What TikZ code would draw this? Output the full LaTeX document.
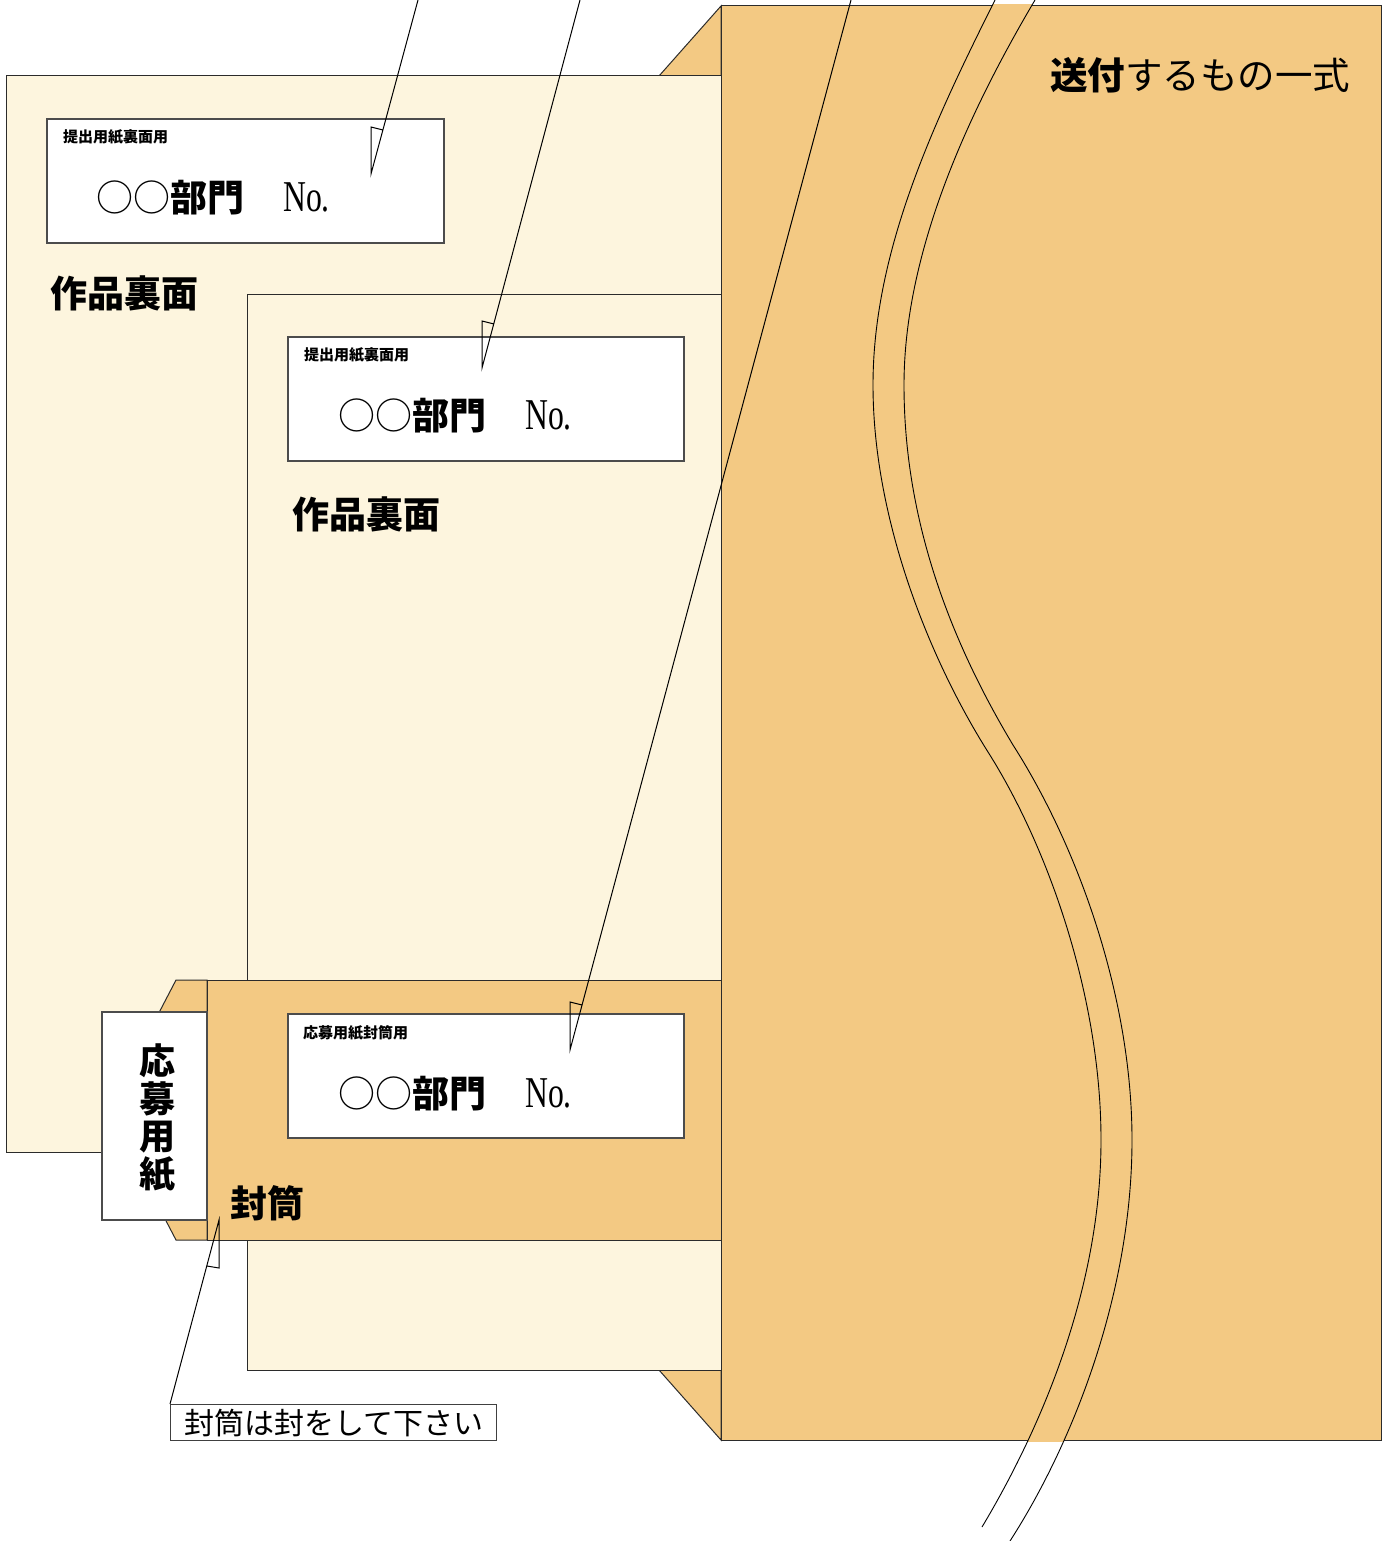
\documentclass[tikz,border=0pt]{standalone}
\usepackage{fontspec}
\usepackage{graphicx}
\newfontfamily\jp{Noto Sans CJK JP}
\newfontfamily\lat{Liberation Serif}
\definecolor{cream}{HTML}{FDF5DE}
\definecolor{env}{HTML}{F3C983}
\definecolor{edge}{HTML}{2B2B2B}
\begin{document}
\begin{tikzpicture}[x=1pt,y=-1pt,
  sheet/.style={fill=cream,draw=edge,line width=1pt},
  envel/.style={fill=env,draw=edge,line width=1pt},
  labelbox/.style={fill=white,draw=black!70,line width=1.2pt},
  lead/.style={draw=black,line width=1pt},
  curv/.style={draw=black,line width=0.9pt},
  txt/.style={inner sep=0pt,anchor=west},
  head/.style={txt,font=\jp\bfseries\fontsize{37}{37}\selectfont},
  small/.style={txt,font=\jp\bfseries\fontsize{15}{15}\selectfont},
  big/.style={txt,font=\jp\fontsize{37}{37}\selectfont}]
\newcommand{\bignum}{○○\textbf{部門}\hspace{39pt}{\lat\fontsize{44}{44}\selectfont\scalebox{0.72}[1]{No.}}}
\useasboundingbox (0,0) rectangle (1391,1541);

% big envelope flap
\path[envel] (659,76) -- (721,6) -- (721,1440) -- (659,1370) -- cycle;
% sheets
\path[sheet] (6,76) rectangle (721,1152);
\path[sheet] (247,294) rectangle (721,1370);
% label boxes
\path[labelbox] (47,119) rectangle (444,243);
\path[labelbox] (288,337) rectangle (684,461);
% small envelope
\path[envel] (176,980) -- (207,980) -- (207,1240) -- (176,1240) -- (150,1190) -- (150,1030) -- cycle;
\path[envel] (207,980) rectangle (721,1240);
\path[labelbox] (102,1012) rectangle (207,1220);
\path[labelbox] (288,1014) rectangle (684,1138);
% big envelope body
\path[envel] (721,6) rectangle (1381,1440);
% break band
\begin{scope}
\clip (720,4.5) rectangle (1383,1441.5);
\fill[env] (995,0) .. controls (935,120) and (873,250) .. (873,385)
  .. controls (873,520) and (930,660) .. (988,752)
  .. controls (1050,850) and (1101,1000) .. (1101,1140)
  .. controls (1101,1290) and (1040,1430) .. (982,1527)
  -- (1010,1541) .. controls (1075,1440) and (1132,1290) .. (1132,1140)
  .. controls (1132,1000) and (1080,850) .. (1013,745)
  .. controls (950,640) and (904,520) .. (904,385)
  .. controls (904,250) and (970,110) .. (1035,0) -- cycle;
\end{scope}
\draw[curv] (995,0) .. controls (935,120) and (873,250) .. (873,385)
  .. controls (873,520) and (930,660) .. (988,752)
  .. controls (1050,850) and (1101,1000) .. (1101,1140)
  .. controls (1101,1290) and (1040,1430) .. (982,1527);
\draw[curv] (1035,0) .. controls (970,110) and (904,250) .. (904,385)
  .. controls (904,520) and (950,640) .. (1013,745)
  .. controls (1080,850) and (1132,1000) .. (1132,1140)
  .. controls (1132,1290) and (1075,1440) .. (1010,1541);

% texts
\node[head] (h1) at (50,293) {作品裏面};
\node[head] (h2) at (292,514) {作品裏面};
\node[head] (h3) at (230,1203) {封筒};
\node[txt,font=\jp\fontsize{37.5}{37.5}\selectfont] (title) at (1050,75) {\textbf{送付}するもの一式};
\node[small] (s1) at (63,137) {提出用紙裏面用};
\node[small] (s2) at (304,355) {提出用紙裏面用};
\node[small] (s3) at (303,1033) {応募用紙封筒用};
\node[big] (b1) at (96,198) {\bignum};
\node[big] (b2) at (338,416) {\bignum};
\node[big] (b3) at (338,1094) {\bignum};
\node[inner sep=0pt,align=center,font=\jp\bfseries\fontsize{36}{37.5}\selectfont] (ob) at (157,1118) {応\\募\\用\\紙};

% callout leaders
\coordinate (t1) at (418,0);   \coordinate (p1) at (371,174);
\coordinate (t2) at (580,0);   \coordinate (p2) at (482,368);
\coordinate (t3) at (851,0);   \coordinate (p3) at (570,1050);
\draw[lead] (t1) -- (p1) -- (371,127) -- (383,130);
\draw[lead] (t2) -- (p2) -- (482,321) -- (494,324);
\draw[lead] (t3) -- (p3) -- (570,1002) -- (582,1005);
\node[draw=black!75,line width=1.3pt,fill=white,anchor=north west,minimum width=326pt,minimum height=36pt,inner sep=0pt,font=\jp\fontsize{30}{30}\selectfont] (cb) at (170,1404) {封筒は封をして下さい};
\coordinate (p4) at (219,1220);
\draw[lead] (cb.north west) -- (p4) -- (219,1268) -- (207,1266);
\end{tikzpicture}
\end{document}
